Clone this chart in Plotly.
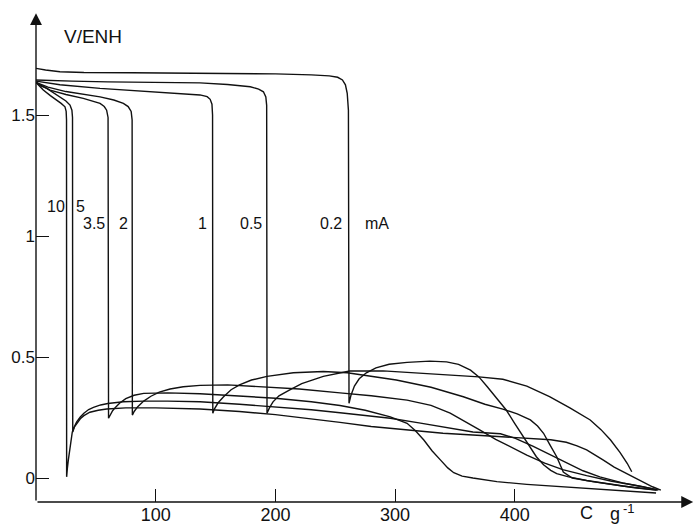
import plotly.graph_objects as go

# ---- data (C g^-1 , V/ENH) ----
x_10 = [0, 3, 6.1, 12, 17.3, 21, 24.2, 25.2, 25.5, 25.6, 26.2, 27, 28.4, 30.3, 32, 34, 37, 40, 44, 48, 54, 60, 73, 90,
        110, 137, 170, 200, 230, 254, 275, 296, 320, 338, 365, 388, 400, 415, 430, 443, 457, 471, 490, 507, 520]
y_10 = [1.635, 1.617, 1.603, 1.58, 1.562, 1.548, 1.534, 1.515, 1.48, 0.005, 0.04, 0.074, 0.13, 0.19, 0.212, 0.232,
        0.252, 0.268, 0.283, 0.292, 0.302, 0.308, 0.315, 0.318, 0.318, 0.315, 0.305, 0.295, 0.282, 0.27, 0.258,
        0.247, 0.228, 0.212, 0.19, 0.183, 0.165, 0.132, 0.095, 0.062, 0.03, 0.005, -0.02, -0.036, -0.05]

x_5 = [0, 4, 9, 15, 20, 25, 28.4, 30, 30.5, 30.7, 32, 34, 37, 40, 45, 52, 59, 75, 100, 137, 170, 200, 230, 254, 280,
       310, 340, 365, 396, 415, 430, 443, 452, 460, 467, 474, 483, 493, 503, 515, 522]
y_5 = [1.635, 1.62, 1.61, 1.59, 1.576, 1.558, 1.541, 1.52, 1.49, 0.19, 0.21, 0.226, 0.245, 0.258, 0.272, 0.28, 0.285,
       0.29, 0.29, 0.285, 0.275, 0.262, 0.245, 0.23, 0.213, 0.198, 0.185, 0.178, 0.168, 0.164, 0.158, 0.148, 0.133,
       0.116, 0.096, 0.074, 0.045, 0.02, -0.008, -0.036, -0.05]

x_35 = [0, 5, 11.7, 25, 39.5, 53.5, 57, 59, 60.2, 60.6, 62, 64, 66.5, 70, 75, 82, 90, 110, 137, 170, 200, 230, 254,
        275, 296, 310, 317, 324, 331, 338, 344, 349, 356, 365, 385, 410, 440, 480, 518]
y_35 = [1.635, 1.62, 1.603, 1.585, 1.569, 1.548, 1.535, 1.52, 1.49, 0.247, 0.262, 0.278, 0.293, 0.31, 0.328, 0.342,
        0.35, 0.352, 0.348, 0.34, 0.33, 0.315, 0.3, 0.28, 0.253, 0.226, 0.195, 0.157, 0.112, 0.074, 0.042, 0.022,
        0.008, 0.0, -0.015, -0.026, -0.036, -0.05, -0.062]

x_2 = [0, 10, 25, 40, 53.5, 65, 73, 77, 79.5, 80.3, 80.5, 82, 85, 90, 96, 103, 112, 123, 137, 160, 190, 220, 254,
       280, 310, 330, 346, 360, 371, 384, 396, 410, 425, 440, 460, 480, 500, 519]
y_2 = [1.635, 1.615, 1.597, 1.585, 1.575, 1.562, 1.548, 1.535, 1.515, 1.48, 0.26, 0.275, 0.295, 0.318, 0.338, 0.355,
       0.368, 0.377, 0.383, 0.385, 0.378, 0.368, 0.352, 0.34, 0.322, 0.3, 0.268, 0.23, 0.198, 0.16, 0.129, 0.095,
       0.062, 0.035, 0.01, -0.012, -0.03, -0.048]

x_1 = [0, 20, 53.5, 100, 137, 143, 145.5, 147, 147.5, 147.7, 149, 152, 156.5, 163, 170, 180, 193, 215, 240, 260, 280,
       301, 330, 357, 375, 390, 402, 413, 419, 424, 429, 435, 440.5, 448, 465, 490, 519]
y_1 = [1.64, 1.625, 1.61, 1.595, 1.583, 1.576, 1.565, 1.545, 1.5, 0.268, 0.285, 0.31, 0.335, 0.365, 0.385, 0.405,
       0.42, 0.435, 0.44, 0.435, 0.42, 0.405, 0.375, 0.336, 0.305, 0.285, 0.265, 0.24, 0.215, 0.185, 0.14, 0.088,
       0.025, 0.0, -0.015, -0.033, -0.05]

x_05 = [0, 10, 30, 60, 100, 137, 160, 179, 186, 190, 192, 192.7, 193, 195, 198, 203, 212, 222, 240, 262, 290, 330,
        370, 390, 410, 429, 446, 463, 472, 480, 488, 494, 497.7]
y_05 = [1.645, 1.643, 1.64, 1.637, 1.635, 1.633, 1.626, 1.617, 1.607, 1.596, 1.575, 1.54, 0.268, 0.29, 0.315, 0.34,
        0.364, 0.39, 0.42, 0.442, 0.443, 0.432, 0.418, 0.408, 0.38, 0.336, 0.29, 0.24, 0.2, 0.157, 0.105, 0.06, 0.026]

x_02 = [0, 8, 20, 40, 80, 120, 160, 200, 230, 245, 252, 256, 258.5, 260, 261, 261.5, 263, 266, 270, 276, 284, 295,
        310, 329, 343, 353, 363, 370, 377, 385, 393, 400, 407, 413, 418, 424, 430, 435, 445, 460, 480, 500, 518]
y_02 = [1.693, 1.686, 1.679, 1.676, 1.675, 1.674, 1.673, 1.67, 1.666, 1.662, 1.656, 1.645, 1.625, 1.59, 1.52, 0.309,
        0.34, 0.38, 0.41, 0.435, 0.455, 0.47, 0.478, 0.483, 0.48, 0.47, 0.446, 0.418, 0.377, 0.33, 0.28, 0.225, 0.17,
        0.125, 0.088, 0.055, 0.032, 0.018, 0.005, -0.01, -0.025, -0.04, -0.05]

series = [(x_10, y_10), (x_5, y_5), (x_35, y_35), (x_2, y_2), (x_1, y_1), (x_05, y_05), (x_02, y_02)]

curve_labels = ["10", "5", "3.5", "2", "1", "0.5", "0.2", "mA"]
label_x = [16.7, 37.2, 48.5, 73.5, 139.0, 179.6, 246.4, 284.5]
label_y = [1.124, 1.124, 1.05, 1.05, 1.05, 1.05, 1.05, 1.05]

x_ticks = [100, 200, 300, 400]
y_ticks = [0, 0.5, 1, 1.5]
y_ticktext = ["0", "0.5", "1", "1.5"]

X_MAX = 549.7
Y_MIN, Y_MAX = -0.099, 1.934
INK = "#111111"
FONT = "Liberation Sans"

fig = go.Figure()
for xs, ys in series:
    fig.add_trace(go.Scatter(x=xs, y=ys, mode="lines", line=dict(color=INK, width=1.4),
                             showlegend=False, hoverinfo="skip"))

for t, lx, ly in zip(curve_labels, label_x, label_y):
    fig.add_annotation(x=lx, y=ly, text=t, showarrow=False, xref="x", yref="y",
                       font=dict(family=FONT, size=16, color=INK))

# axes with arrowheads
fig.add_annotation(x=549.0, y=Y_MIN, ax=0, ay=Y_MIN, xref="x", yref="y", axref="x", ayref="y",
                   text="", showarrow=True, arrowhead=2, arrowsize=1.7, arrowwidth=1.4,
                   arrowcolor=INK, standoff=0, startstandoff=0)
fig.add_annotation(x=0, y=1.921, ax=0, ay=Y_MIN, xref="x", yref="y", axref="x", ayref="y",
                   text="", showarrow=True, arrowhead=2, arrowsize=1.7, arrowwidth=1.4,
                   arrowcolor=INK, standoff=0, startstandoff=0)

# axis titles
fig.add_annotation(x=47.5, y=1.826, text="V/ENH", showarrow=False, xref="x", yref="y",
                   font=dict(family=FONT, size=19, color=INK))
fig.add_annotation(x=459.5, y=Y_MIN, yshift=-11, text="C", showarrow=False, xref="x", yref="y",
                   font=dict(family=FONT, size=18, color=INK))
fig.add_annotation(x=484.0, y=Y_MIN, yshift=-12, text="g", showarrow=False, xref="x", yref="y",
                   font=dict(family=FONT, size=18, color=INK))
fig.add_annotation(x=495.0, y=Y_MIN, yshift=-6, text="-1", showarrow=False, xref="x", yref="y",
                   font=dict(family=FONT, size=13, color=INK))

fig.update_xaxes(range=[0, X_MAX], showgrid=False, zeroline=False, showline=False,
                 tickmode="array", tickvals=x_ticks, ticks="inside", ticklen=13, tickwidth=1.3,
                 tickcolor=INK, tickfont=dict(family=FONT, size=18, color=INK))
fig.update_yaxes(range=[Y_MIN, Y_MAX], showgrid=False, zeroline=False, showline=False,
                 tickmode="array", tickvals=y_ticks, ticktext=y_ticktext, ticks="inside", ticklen=13,
                 tickwidth=1.3, tickcolor=INK, tickfont=dict(family=FONT, size=17, color=INK))

fig.update_layout(width=694, height=525, margin=dict(l=36, r=0, t=10, b=23),
                  paper_bgcolor="white", plot_bgcolor="white", showlegend=False)

fig.write_html("out.html")
